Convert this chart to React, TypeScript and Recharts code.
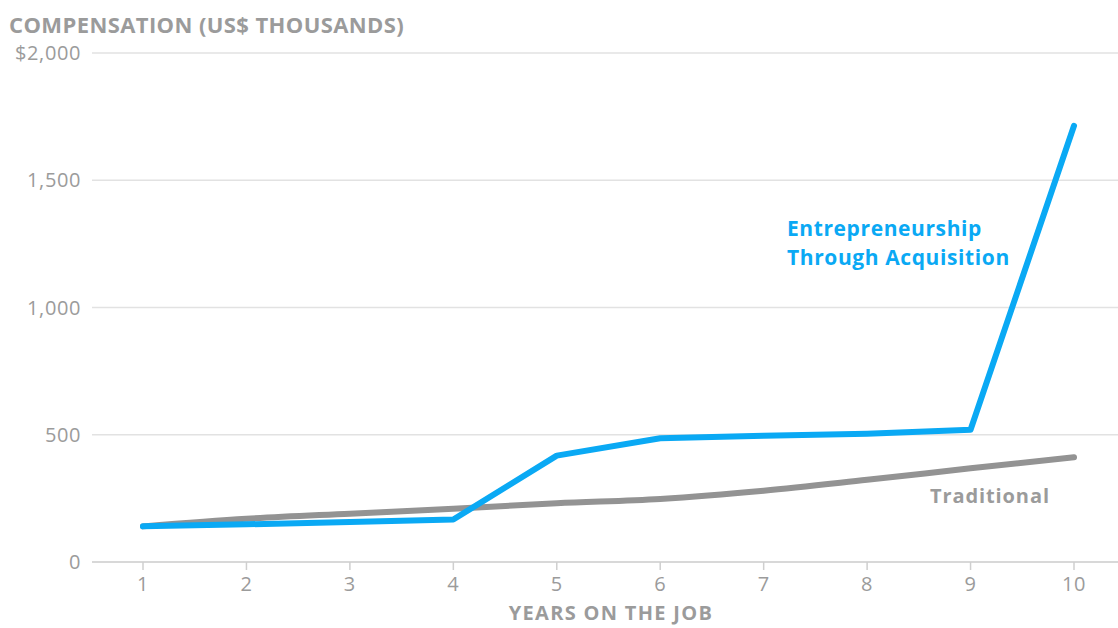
import { LineChart, Line, XAxis, YAxis, CartesianGrid } from 'recharts'

// compensation by year on the job, US$ thousands
const years = [1, 2, 3, 4, 5, 6, 7, 8, 9, 10]
const acquisitionPay = [140, 148, 157, 167, 418, 486, 496, 504, 520, 1714]
const traditionalPay = [140, 170, 190, 209, 231, 248, 280, 323, 368, 412]
const yTicks = [0, 500, 1000, 1500, 2000]

const data = years.map((year, i) => ({
  year,
  acquisition: acquisitionPay[i],
  traditional: traditionalPay[i],
}))

const FONT = '"Open Sans", sans-serif'
const GRAY_TEXT = '#9b9b9b'
const BLUE = '#0aa9f4'

const formatY = (v: number) => (v === 2000 ? '$2,000' : v.toLocaleString('en-US'))

const tickStyle = { fill: GRAY_TEXT, fontSize: 20, fontFamily: FONT, letterSpacing: '0.6px' }

const App = () => {
  const wrapStyle: React.CSSProperties = {
    position: 'absolute',
    left: 0,
    top: 0,
    width: 1118,
    height: 628,
    background: '#fff',
    fontFamily: FONT,
    overflow: 'hidden',
  }

  const titleStyle: React.CSSProperties = {
    position: 'absolute',
    left: 9,
    top: 9,
    fontSize: '22px',
    fontWeight: 700,
    letterSpacing: '0.4px',
    color: GRAY_TEXT,
    lineHeight: '30px',
    whiteSpace: 'nowrap',
  }

  const xTitleStyle: React.CSSProperties = {
    position: 'absolute',
    left: 0,
    width: 1222,
    top: 602,
    textAlign: 'center',
    fontSize: '20px',
    fontWeight: 700,
    letterSpacing: '1.3px',
    color: GRAY_TEXT,
    lineHeight: '22px',
  }

  const blueLabelStyle: React.CSSProperties = {
    position: 'absolute',
    left: 787,
    top: 214,
    fontSize: '21px',
    fontWeight: 700,
    letterSpacing: '0.6px',
    color: BLUE,
    lineHeight: '29px',
  }

  const grayLabelStyle: React.CSSProperties = {
    position: 'absolute',
    left: 930,
    top: 481,
    fontSize: '20px',
    fontWeight: 700,
    letterSpacing: '0.9px',
    color: GRAY_TEXT,
    lineHeight: '30px',
  }

  return (
    <div style={wrapStyle}>
      <LineChart width={1118} height={628} data={data} margin={{ top: 53, right: 0, left: 0, bottom: 36 }}>
        <CartesianGrid vertical={false} stroke="#e2e2e2" strokeWidth={1.5} />
        <XAxis
          dataKey="year"
          type="number"
          domain={[1, 10]}
          ticks={years}
          padding={{ left: 51, right: 44 }}
          height={30}
          axisLine={{ stroke: '#d2d2d2', strokeWidth: 1.5 }}
          tickLine={{ stroke: '#cfcfcf', strokeWidth: 1.5 }}
          tickSize={8}
          tickMargin={7}
          tick={tickStyle}
        />
        <YAxis
          domain={[0, 2000]}
          ticks={yTicks}
          width={92}
          axisLine={false}
          tickLine={false}
          tickSize={0}
          tickMargin={11}
          tickFormatter={formatY}
          tick={tickStyle}
        />
        <Line
          type="monotone"
          dataKey="traditional"
          stroke="#939393"
          strokeWidth={6}
          strokeLinecap="round"
          dot={false}
          isAnimationActive={false}
        />
        <Line
          type="linear"
          dataKey="acquisition"
          stroke={BLUE}
          strokeWidth={6}
          strokeLinecap="round"
          strokeLinejoin="round"
          dot={false}
          isAnimationActive={false}
        />
      </LineChart>
      <div style={titleStyle}>COMPENSATION (US$ THOUSANDS)</div>
      <div style={blueLabelStyle}>
        Entrepreneurship
        <br />
        Through Acquisition
      </div>
      <div style={grayLabelStyle}>Traditional</div>
      <div style={xTitleStyle}>YEARS ON THE JOB</div>
    </div>
  )
}

export default App
